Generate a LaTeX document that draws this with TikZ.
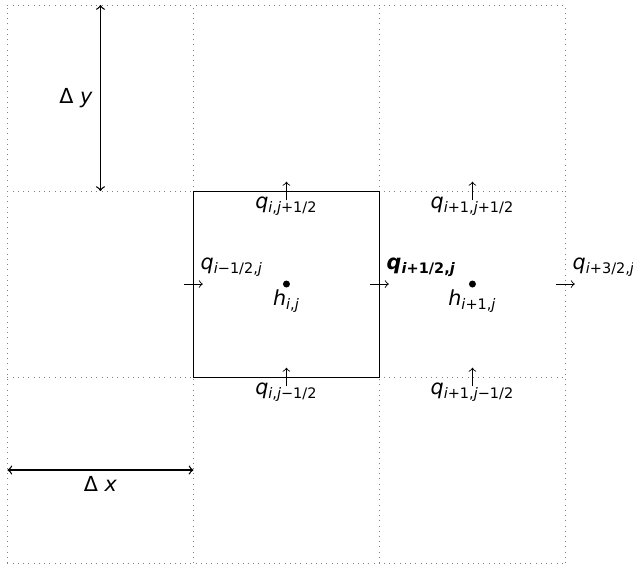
\documentclass[tikz,border=0pt]{standalone}
\usepackage{fontspec}
\setmainfont{DejaVu Sans}
\usetikzlibrary{positioning}
\newcommand{\qflux}[1]{\textit{q}\textsubscript{#1}}
\newcommand{\hcell}[1]{\textit{h}\textsubscript{#1}}
\newcommand{\ii}{\textit{i}}
\newcommand{\jj}{\textit{j}}
\begin{document}
\begin{tikzpicture}[x=3cm, y=3cm, font=\fontsize{9.5}{11}\selectfont,
    flux/.style={->, thin},
    spacing/.style={<->, semithick},
    centre/.style={circle, fill, inner sep=0pt, minimum size=3.2pt}]
    \useasboundingbox (-0.040,-0.016) rectangle (3.363,3.027);
    % Mesh (3x3 cells)
    \draw[gray, dotted, step=3cm] (0,0) grid (3,3);
    \draw (1,1) rectangle (2,2);
    % Cell centres
    \node[centre] (hc) at (1.5,1.5) {};
    \node[centre] (hr) at (2.5,1.5) {};
    \node[anchor=base, inner sep=0pt] (hclbl) at ([yshift=-3.5mm]hc.center) {\hcell{\ii,\jj}};
    \node[anchor=base, inner sep=0pt] (hrlbl) at ([yshift=-3.5mm]hr.center) {\hcell{\ii+1,\jj}};
    % Faces in x (fluxes to the right)
    \foreach \name/\x/\lbl in {fw/1/{\qflux{\ii−1/2,\jj}},
                               fe/2/{\textbf{\qflux{\ii+1/2,\jj}}},
                               fee/3/{\qflux{\ii+3/2,\jj}}} {
        \coordinate (\name) at (\x,1.5);
        \draw[flux] ([xshift=-1.5mm]\name) -- ([xshift=1.5mm]\name);
        \node[anchor=base west, inner sep=0pt] (\name lbl) at ([xshift=1.1mm, yshift=2.4mm]\name) {\lbl};
    }
    % Faces in y (fluxes upwards)
    \foreach \name/\x/\y/\lbl in {fn/1.5/2/{\qflux{\ii,\jj+1/2}},
                                  fne/2.5/2/{\qflux{\ii+1,\jj+1/2}},
                                  fs/1.5/1/{\qflux{\ii,\jj−1/2}},
                                  fse/2.5/1/{\qflux{\ii+1,\jj−1/2}}} {
        \coordinate (\name) at (\x,\y);
        \draw[flux] ([yshift=-1.5mm]\name) -- ([yshift=1.5mm]\name);
        \node[anchor=base, inner sep=0pt] (\name lbl) at ([yshift=-2.8mm]\name) {\lbl};
    }
    % Grid spacing
    \coordinate (dyt) at (0.5,3);
    \coordinate (dyb) at (0.5,2);
    \coordinate (dxl) at (0,0.5);
    \coordinate (dxr) at (1,0.5);
    \coordinate (dxm) at (0.5,0.5);
    \draw[spacing] (dyt) -- (dyb) node[midway, left=0pt] (dylbl) {Δ \textit{y}};
    \draw[spacing] (dxl) -- (dxr);
    \node[anchor=base, inner sep=0pt] (dxlbl) at ([yshift=-3.4mm]dxm) {Δ \textit{x}};
\end{tikzpicture}
\end{document}
